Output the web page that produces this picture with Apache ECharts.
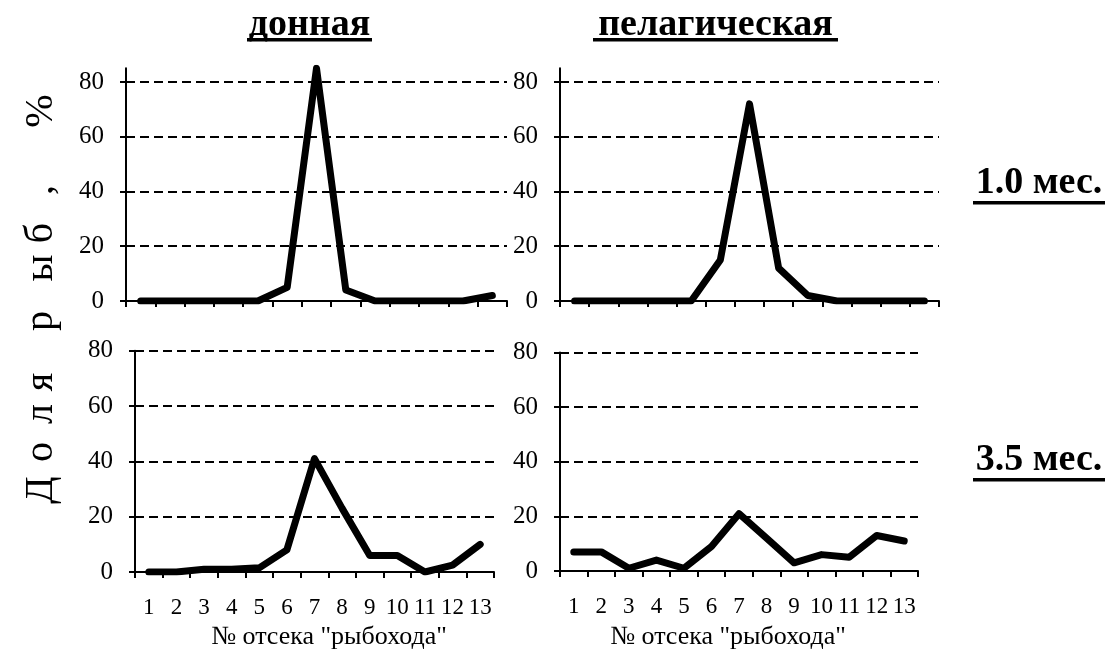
<!DOCTYPE html>
<html>
<head>
<meta charset="utf-8">
<script src="https://cdn.jsdelivr.net/npm/echarts@6/dist/echarts.min.js"></script>
<style>
html,body{margin:0;padding:0;background:#fff;}
#chart{width:1118px;height:653px;}
</style>
</head>
<body>
<div id="chart"></div>
<script>
// ---- data ----
const categories = ['1','2','3','4','5','6','7','8','9','10','11','12','13'];
const yTicks = [0, 20, 40, 60, 80];
const bottom1m = [0, 0, 0, 0, 0, 5, 85, 4, 0, 0, 0, 0, 2];      // донная, 1.0 мес.
const pelagic1m = [0, 0, 0, 0, 0, 15, 72, 12, 2, 0, 0, 0, 0];   // пелагическая, 1.0 мес.
const bottom35m = [0, 0, 1, 1, 1.5, 8, 41, 23, 6, 6, 0, 2.5, 10]; // донная, 3.5 мес.
const pelagic35m = [7, 7, 1, 4, 1, 9, 21, 12, 3, 6, 5, 13, 11];  // пелагическая, 3.5 мес.
const colTitles = ['донная', 'пелагическая'];
const rowTitles = ['1.0 мес.', '3.5 мес.'];
const xName = '№ отсека "рыбохода"';
const yTitleChars = ['Д','о','л','я','р','ы','б',',','%'];

// ---- layout ----
const FONT = '"Liberation Serif", "Times New Roman", serif';
const grids = [
  {left: 126, top: 68.3, width: 381, height: 232.7},
  {left: 560, top: 68.3, width: 379, height: 232.7},
  {left: 135, top: 350.7, width: 359, height: 221.3},
  {left: 560, top: 352.5, width: 358, height: 218.5}
];
const yMax = [85, 85, 80, 80];
const seriesData = [bottom1m, pelagic1m, bottom35m, pelagic35m];

const xAxes = grids.map((g, i) => ({
  type: 'category', gridIndex: i, data: categories, boundaryGap: true,
  axisLine: {show: true, lineStyle: {color: '#000', width: 2}},
  axisTick: {show: true, length: 6, inside: false, alignWithLabel: false, interval: 0, lineStyle: {color: '#000', width: 2}},
  axisLabel: {show: i >= 2, interval: 0, color: '#000', fontFamily: FONT, fontSize: 23, margin: 24},
  splitLine: {show: false}
}));
const yAxes = grids.map((g, i) => ({
  type: 'value', gridIndex: i, min: 0, max: yMax[i], interval: 20,
  axisLine: {show: true, lineStyle: {color: '#000', width: 2}},
  axisTick: {show: true, length: 6, inside: false, customValues: yTicks, lineStyle: {color: '#000', width: 2}},
  axisLabel: {color: '#000', fontFamily: FONT, fontSize: 25, margin: 22, customValues: yTicks},
  splitLine: {show: true, lineStyle: {color: '#000', width: 2, type: [9, 5]}}
}));
const series = seriesData.map((d, i) => ({
  type: 'line', xAxisIndex: i, yAxisIndex: i, data: d,
  symbol: 'none', silent: true,
  lineStyle: {color: '#000', width: 7, cap: 'round', join: 'round'}
}));

const graphic = [];
// column titles with underline
const colPos = [{cx: 309.5, y: 25, x1: 247, x2: 372, uy: 38}, {cx: 715.5, y: 25, x1: 593, x2: 838, uy: 38}];
colTitles.forEach((t, i) => {
  const p = colPos[i];
  graphic.push({type: 'text', x: p.cx, y: p.y, style: {text: t, fontFamily: FONT, fontSize: 38, fontWeight: 'bold', fill: '#000', align: 'center', verticalAlign: 'middle'}});
  graphic.push({type: 'rect', shape: {x: p.x1, y: p.uy, width: p.x2 - p.x1, height: 3.5}, style: {fill: '#000'}});
});
// row titles with underline
const rowPos = [{cx: 1039, y: 183.5, x1: 973, x2: 1105, uy: 201}, {cx: 1039, y: 460, x1: 973, x2: 1105, uy: 478}];
rowTitles.forEach((t, i) => {
  const p = rowPos[i];
  graphic.push({type: 'text', x: p.cx, y: p.y, style: {text: t, fontFamily: FONT, fontSize: 38, fontWeight: 'bold', fill: '#000', align: 'center', verticalAlign: 'middle'}});
  graphic.push({type: 'rect', shape: {x: p.x1, y: p.uy, width: p.x2 - p.x1, height: 3.5}, style: {fill: '#000'}});
});
// x axis names
[329, 728].forEach(cx => {
  graphic.push({type: 'text', x: cx, y: 637, style: {text: xName, fontFamily: FONT, fontSize: 26, fill: '#000', align: 'center', verticalAlign: 'middle'}});
});
// vertical y title, spaced letters
const yCharPos = [490, 452, 414, 382, 321, 268, 233, 190, 111];
yTitleChars.forEach((c, i) => {
  graphic.push({type: 'text', x: 41, y: yCharPos[i], rotation: Math.PI / 2,
    style: {text: c, fontFamily: FONT, fontSize: 40, fill: '#000', align: 'center', verticalAlign: 'middle'}});
});

const chart = echarts.init(document.getElementById('chart'), null, {renderer: 'canvas'});
chart.setOption({
  animation: false,
  backgroundColor: '#fff',
  grid: grids.map(g => Object.assign({containLabel: false}, g)),
  xAxis: xAxes,
  yAxis: yAxes,
  series: series,
  graphic: graphic
});
</script>
</body>
</html>
